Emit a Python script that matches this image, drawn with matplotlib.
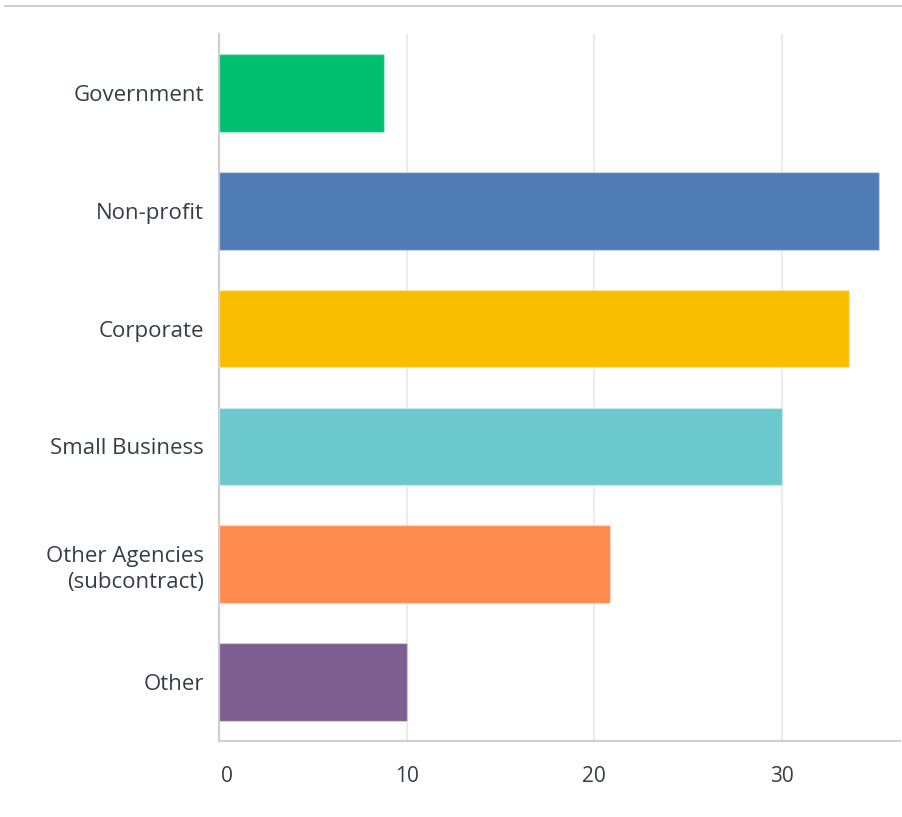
import matplotlib
matplotlib.use("Agg")
import matplotlib.pyplot as plt
from matplotlib.lines import Line2D
from matplotlib.transforms import ScaledTranslation

categories = ["Government", "Non-profit", "Corporate", "Small Business",
              "Other Agencies\n(subcontract)", "Other"]
values = [8.8, 35.2, 33.6, 30.0, 20.85, 10.0]
colors = ["#00bf6f", "#507cb6", "#f9be00", "#6bc8cd", "#ff8b4f", "#7d5e90"]
xticks = [0, 10, 20, 30]

plt.rcParams["font.family"] = ["Open Sans", "DejaVu Sans"]

W, H = 902, 817
fig = plt.figure(figsize=(W / 100, H / 100), dpi=100)
ax = fig.add_axes([219 / W, (H - 741) / H, (900 - 219) / W, (741 - 34) / H])

ypos = list(range(len(categories)))
ax.barh(ypos, values, height=0.66, color=colors, edgecolor=(1, 1, 1, 0.35),
        linewidth=1, zorder=3)

ax.set_ylim(len(categories) - 0.5, -0.5)
ax.set_xlim(0, 36.3)
ax.set_yticks(ypos)
ax.set_yticklabels(categories, fontsize=16, color="#333e48", linespacing=1.32)
ax.set_xticks(xticks)
ax.set_xticklabels([str(t) for t in xticks], fontsize=15, color="#333e48")
ax.tick_params(axis="both", length=0)
ax.tick_params(axis="y", pad=11)
ax.tick_params(axis="x", pad=18)
for lbl in ax.get_yticklabels():
    lbl.set_horizontalalignment("right")
    lbl.set_multialignment("right")
xlabels = ax.get_xticklabels()
for lbl in xlabels:
    lbl.set_horizontalalignment("center")
# keep the zero label from hanging left of the axis
xlabels[0].set_horizontalalignment("left")
xlabels[0].set_transform(xlabels[0].get_transform()
                         + ScaledTranslation(2 / 100, 0, fig.dpi_scale_trans))

ax.grid(axis="x", color="#ebebeb", linewidth=1.5, zorder=0)
for side in ("top", "right"):
    ax.spines[side].set_visible(False)
for side in ("left", "bottom"):
    ax.spines[side].set_color("#cfcfcf")
    ax.spines[side].set_linewidth(1.5)

fig.add_artist(Line2D([5 / W, 1.0], [1 - 6 / H, 1 - 6 / H],
                      transform=fig.transFigure, color="#c8c8c8", linewidth=1.3))

fig.savefig("out.png", dpi=100, facecolor="white")
